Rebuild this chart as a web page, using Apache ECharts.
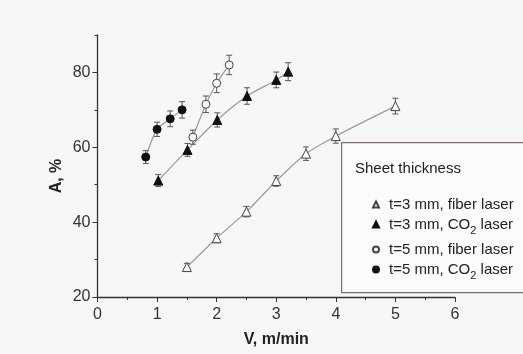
<!DOCTYPE html>
<html>
<head>
<meta charset="utf-8">
<script src="https://cdn.jsdelivr.net/npm/echarts@6/dist/echarts.min.js"></script>
<style>html,body{margin:0;padding:0;background:#f7f7f7;}#c{width:523px;height:354px;}</style>
</head>
<body>
<div id="c"></div>
<script>
// ---- data ----
const xFiber3 = [1.5, 2.0, 2.5, 3.0, 3.5, 4.0, 5.0];
const aFiber3 = [28, 35.7, 42.8, 51, 58.3, 63, 71];
const eFiber3 = [1.0, 1.2, 1.4, 1.4, 1.8, 1.9, 2.1];

const xCO2t3 = [1.02, 1.51, 2.01, 2.51, 3.0, 3.2];
const aCO2t3 = [51.1, 59.3, 67.3, 73.7, 78, 80.2];
const eCO2t3 = [1.6, 1.7, 1.9, 2.2, 2.1, 2.4];

const xFiber5 = [1.6, 1.82, 2.0, 2.21];
const aFiber5 = [62.7, 71.5, 77.1, 82];
const eFiber5 = [1.9, 2.2, 2.5, 2.6];

const xCO2t5 = [0.81, 1.0, 1.22, 1.42];
const aCO2t5 = [57.4, 64.8, 67.6, 70];
const eCO2t5 = [1.7, 1.9, 2.1, 2.2];

const seriesNames = ['t=3 mm, fiber laser', 't=3 mm, CO2 laser', 't=5 mm, fiber laser', 't=5 mm, CO2 laser'];
const legendTitle = 'Sheet thickness';
const xTitle = 'V, m/min';
const yTitle = 'A, %';

// ---- build ----
const FONT = "'Liberation Sans', Arial, sans-serif";
const groups = [
  {name: seriesNames[0], x: xFiber3, y: aFiber3, e: eFiber3, symbol: 'triangle', filled: false},
  {name: seriesNames[1], x: xCO2t3, y: aCO2t3, e: eCO2t3, symbol: 'triangle', filled: true},
  {name: seriesNames[2], x: xFiber5, y: aFiber5, e: eFiber5, symbol: 'circle', filled: false},
  {name: seriesNames[3], x: xCO2t5, y: aCO2t5, e: eCO2t5, symbol: 'circle', filled: true}
];
const pairs = g => g.x.map((v, i) => [v, g.y[i]]);

const series = [];
groups.forEach(g => {
  series.push({
    type: 'line', data: pairs(g), smooth: 0.3, showSymbol: false, silent: true,
    lineStyle: {color: '#9a9a9a', width: 1.2}, z: 1
  });
});
groups.forEach(g => {
  series.push({
    type: 'custom', z: 2, silent: true,
    data: g.x.map((v, i) => [v, g.y[i] - g.e[i], g.y[i] + g.e[i]]),
    encode: {x: 0, y: [1, 2]},
    renderItem: function (params, api) {
      const lo = api.coord([api.value(0), api.value(1)]);
      const hi = api.coord([api.value(0), api.value(2)]);
      const w = 3;
      const st = {stroke: '#555', lineWidth: 1};
      return {type: 'group', children: [
        {type: 'line', shape: {x1: lo[0], y1: lo[1], x2: hi[0], y2: hi[1]}, style: st},
        {type: 'line', shape: {x1: lo[0] - w, y1: lo[1], x2: lo[0] + w, y2: lo[1]}, style: st},
        {type: 'line', shape: {x1: hi[0] - w, y1: hi[1], x2: hi[0] + w, y2: hi[1]}, style: st}
      ]};
    }
  });
});
groups.forEach(g => {
  series.push({
    type: 'scatter', name: g.name, data: pairs(g), z: 3,
    symbol: g.symbol, symbolSize: g.symbol === 'triangle' ? 9 : 8,
    itemStyle: g.filled ? {color: '#111', borderColor: '#111', borderWidth: 1, opacity: 1}
                        : {color: '#fafafa', borderColor: '#444', borderWidth: 1, opacity: 1}
  });
});

const richLegend = {
  sub: {fontSize: 11, fontFamily: FONT, color: '#222', padding: [12, 0, 0, 0]}
};
const fmt = n => n.replace('CO2', 'CO{sub|2}');
const legendText = {fontFamily: FONT, fontSize: 15, color: '#222', padding: [0, 0, 0, 5], rich: richLegend};

const chart = echarts.init(document.getElementById('c'));
chart.setOption({
  backgroundColor: '#f7f7f7',
  animation: false,
  grid: {left: 97.5, right: 68, top: 35, bottom: 57, containLabel: false, outerBoundsMode: 'none'},
  xAxis: {
    type: 'value', min: 0, max: 6, interval: 1,
    name: xTitle, nameLocation: 'middle', nameGap: 35,
    nameTextStyle: {fontFamily: FONT, fontSize: 16, fontWeight: 'bold', color: '#222'},
    axisLine: {lineStyle: {color: '#333', width: 1.3}},
    axisTick: {length: 5, lineStyle: {color: '#333'}},
    minorTick: {show: true, splitNumber: 2, length: 3, lineStyle: {color: '#333'}},
    axisLabel: {fontFamily: FONT, fontSize: 16, color: '#333', margin: 10},
    splitLine: {show: false}
  },
  yAxis: [{
    type: 'value', min: 20, max: 90, interval: 20,
    axisLine: {show: true, lineStyle: {color: '#333', width: 1.3}},
    axisTick: {show: true, length: 5, lineStyle: {color: '#333'}},
    axisLabel: {fontFamily: FONT, fontSize: 16, color: '#333', margin: 7, showMaxLabel: false},
    splitLine: {show: false}
  }, {
    type: 'value', min: 20, max: 90, interval: 10, position: 'left',
    axisLine: {show: false}, axisTick: {show: true, length: 3, lineStyle: {color: '#333'}},
    axisLabel: {show: false}, splitLine: {show: false}
  }],
  legend: [{
    data: seriesNames.slice(0, 2), orient: 'vertical', left: 367, top: 192, itemGap: 5, z: 10,
    itemWidth: 6, itemHeight: 6, textStyle: legendText, formatter: fmt, selectedMode: false
  }, {
    data: seriesNames.slice(2, 4), orient: 'vertical', left: 367, top: 237, itemGap: 5, z: 10,
    itemWidth: 6, itemHeight: 6, textStyle: legendText, formatter: fmt, selectedMode: false
  }],
  graphic: [
    {type: 'rect', left: 341, top: 142, z: 0, silent: true,
     shape: {width: 200, height: 150}, style: {fill: '#fbfbfb', stroke: '#7d6b6b', lineWidth: 1.2}},
    {type: 'text', left: 355, top: 161, z: 1, silent: true,
     style: {text: legendTitle, fontFamily: FONT, fontSize: 15, fill: '#222'}},
    {type: 'text', x: 57, y: 176, rotation: Math.PI / 2, z: 1, silent: true,
     style: {text: yTitle, fontFamily: FONT, fontSize: 16, fontWeight: 'bold', fill: '#222',
             align: 'center', verticalAlign: 'middle'}}
  ],
  series: series
});
</script>
</body>
</html>
